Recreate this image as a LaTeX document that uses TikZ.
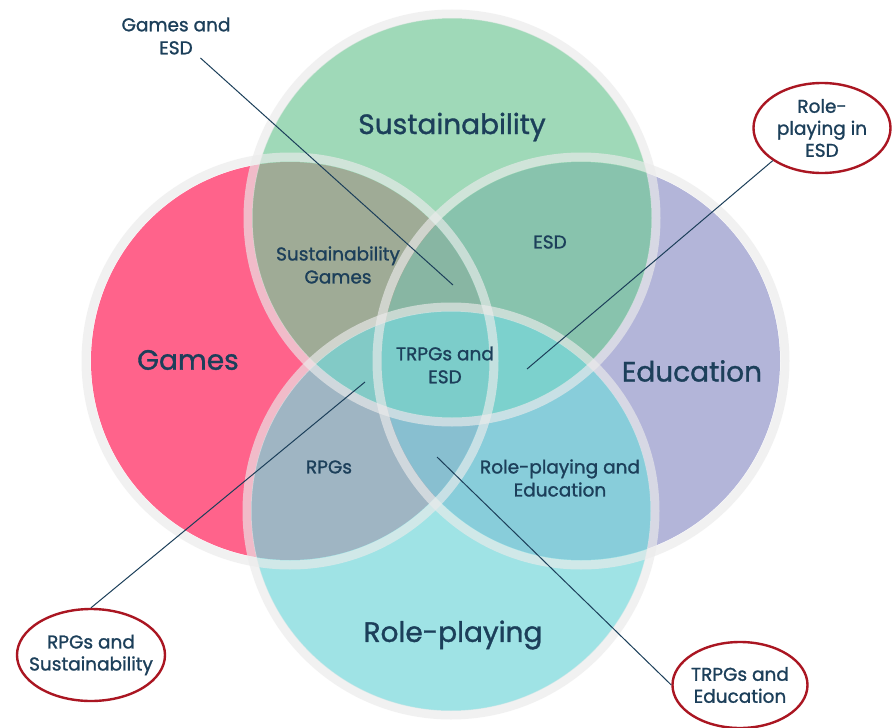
\documentclass[tikz,border=0pt]{standalone}
\usepackage{fontspec}
\setmainfont{Poppins}[RawFeature={embolden=1.2}]
\usetikzlibrary{positioning, shapes.geometric}

\definecolor{gamesred}{RGB}{255,34,91}
\definecolor{sustgreen}{RGB}{119,202,155}
\definecolor{eduviolet}{RGB}{148,151,202}
\definecolor{roleteal}{RGB}{119,216,219}
\definecolor{inkblue}{RGB}{28,63,90}
\definecolor{ringred}{RGB}{170,22,34}

\tikzset{
  set/.style={fill=#1, fill opacity=0.7},
  rim/.style={draw=black!8, draw opacity=0.65, line width=9pt},
  big/.style={text=inkblue, font=\fontsize{28}{33}\selectfont},
  small/.style={text=inkblue, align=center, font=\fontsize{18.5}{23}\selectfont},
  callout/.style={ellipse, draw=ringred, line width=2.4pt, fill=white, text=inkblue,
    align=center, inner sep=-12pt, font=\fontsize{18.5}{22}\selectfont},
  pointer/.style={draw=inkblue, line width=1pt}
}

\begin{document}
\begin{tikzpicture}[x=1pt, y=-1pt]
  \useasboundingbox (0,0) rectangle (895,728);
  \fill[white] (0,0) rectangle (895,728);

  % centres of the four sets
  \coordinate (games) at (290,361);
  \coordinate (edu) at (581,361);
  \coordinate (sust) at (452,218);
  \coordinate (role) at (451,511);

  % fills, then the pale rims on top
  \fill[set=gamesred] (games) circle [radius=199pt];
  \fill[set=eduviolet] (edu) circle [radius=199pt];
  \fill[set=sustgreen] (sust) circle [radius=200pt];
  \fill[set=roleteal] (role) circle [radius=200pt];
  \foreach \c in {games, edu, sust, role}
    \draw[rim] (\c) circle [radius=204pt];

  % set names
  \node[big] (sustlabel) at (452,127) {Sustainability};
  \node[big] (gameslabel) at (188,360) {Games};
  \node[big] (edulabel) at (692,371) {Education};
  \node[big] (rolelabel) at (453,635) {Role-playing};

  % overlaps
  \node[small] (sustgames) at (338,265) {Sustainability\\Games};
  \node[small] (esd) at (550,242) {ESD};
  \node[small] (trpgesd) at (445,365) {TRPGs and\\ESD};
  \node[small] (rpgs) at (329,467) {RPGs};
  \node[small] (roleedu) at (560,478) {Role-playing and\\Education};

  % callouts
  \node[small] (gamesesd) at (176,36) {Games and\\ESD};
  \node[callout, minimum width=137pt, minimum height=90pt] (roleesd) at (822,128) {Role-\\playing in\\ESD};
  \node[callout, minimum width=148pt, minimum height=92pt] (rpgsust) at (91,655) {RPGs and\\Sustainability};
  \node[callout, minimum width=135pt, minimum height=86pt] (trpgedu) at (740,685) {TRPGs and\\Education};

  \coordinate (gamesesd-end) at (453,285);
  \coordinate (roleesd-end) at (527,369);
  \coordinate (rpgsust-end) at (365,382);
  \coordinate (trpgedu-end) at (437,457);
  \draw[pointer] (gamesesd) -- (gamesesd-end);
  \draw[pointer] (roleesd.south west) -- (roleesd-end);
  \draw[pointer] (rpgsust.north) -- (rpgsust-end);
  \draw[pointer] (trpgedu.west) -- (trpgedu-end);
\end{tikzpicture}
\end{document}
